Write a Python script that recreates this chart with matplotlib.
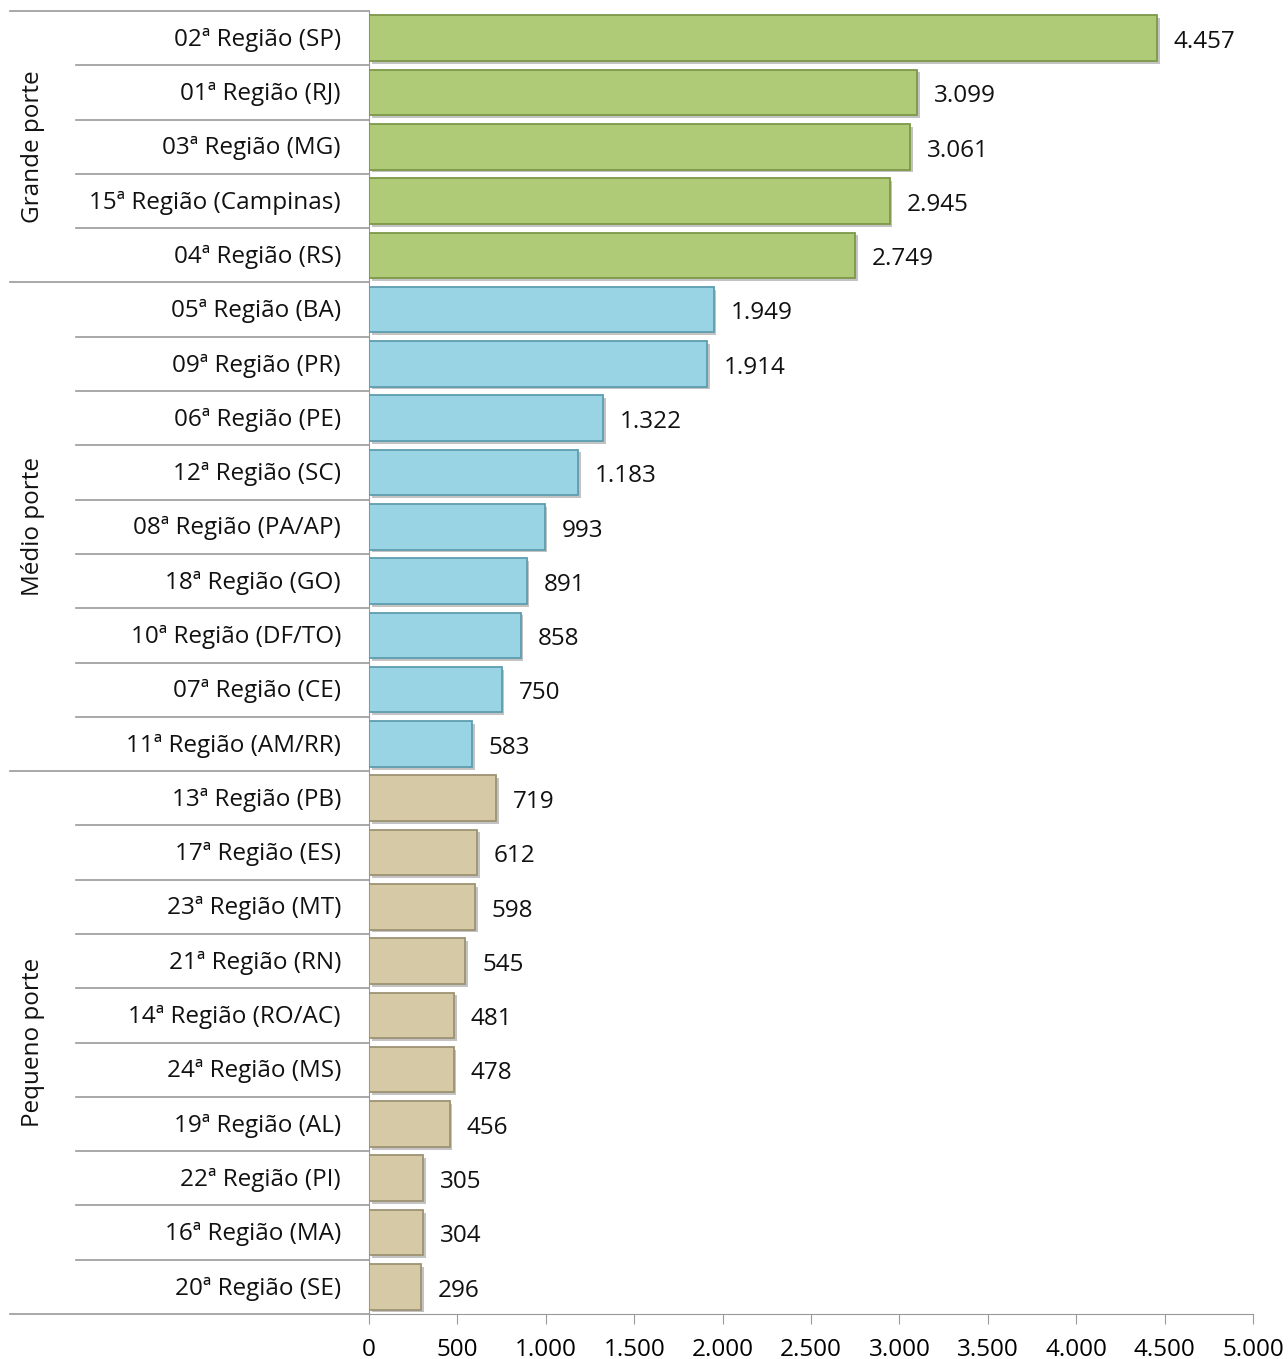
import matplotlib
matplotlib.use("Agg")
import matplotlib.pyplot as plt
import matplotlib.transforms as mtransforms
import matplotlib.patheffects as pe

plt.rcParams['font.family'] = ['Open Sans', 'DejaVu Sans']

regions = ["02ª Região (SP)", "01ª Região (RJ)", "03ª Região (MG)", "15ª Região (Campinas)",
           "04ª Região (RS)",
           "05ª Região (BA)", "09ª Região (PR)", "06ª Região (PE)", "12ª Região (SC)",
           "08ª Região (PA/AP)", "18ª Região (GO)", "10ª Região (DF/TO)", "07ª Região (CE)",
           "11ª Região (AM/RR)",
           "13ª Região (PB)", "17ª Região (ES)", "23ª Região (MT)", "21ª Região (RN)",
           "14ª Região (RO/AC)", "24ª Região (MS)", "19ª Região (AL)", "22ª Região (PI)",
           "16ª Região (MA)", "20ª Região (SE)"]
values = [4457, 3099, 3061, 2945, 2749,
          1949, 1914, 1322, 1183, 993, 891, 858, 750, 583,
          719, 612, 598, 545, 481, 478, 456, 305, 304, 296]
groups = ["Grande porte", "Médio porte", "Pequeno porte"]
group_sizes = [5, 9, 10]
group_face = ["#AFCB77", "#98D4E4", "#D5CAA5"]
group_edge = ["#7D9848", "#5E9DAF", "#9D9272"]
xticks = [0, 500, 1000, 1500, 2000, 2500, 3000, 3500, 4000, 4500, 5000]

FS = 17.5

def fmt(v):
    return "{:,}".format(v).replace(",", ".")

fig = plt.figure(figsize=(12.88, 13.59), dpi=100)
ax = fig.add_axes([369 / 1288, 1 - 1314 / 1359, 884 / 1288, 1303 / 1359])

colors, edges = [], []
for g, n in enumerate(group_sizes):
    colors += [group_face[g]] * n
    edges += [group_edge[g]] * n

ypos = list(range(len(values)))
bh = 0.84
bars = ax.barh(ypos, values, height=bh, color=colors, edgecolor=edges, linewidth=1.3, zorder=3)
for b in bars:
    b.set_path_effects([pe.SimplePatchShadow(offset=(2, -2), shadow_rgbFace="#888888", alpha=0.5), pe.Normal()])

for y, v in zip(ypos, values):
    ax.text(v + 95, y + 0.07, fmt(v), va="center", ha="left", fontsize=FS, color="#111111")

ax.set_ylim(len(values) - 0.5, -0.5)
ax.set_xlim(0, 5000)
ax.set_xticks(xticks)
ax.set_xticklabels([fmt(t) for t in xticks], fontsize=FS)
ax.set_yticks([])
for s in ["top", "right"]:
    ax.spines[s].set_visible(False)
ax.spines["left"].set_color("#999999")
ax.spines["bottom"].set_color("#999999")
ax.tick_params(axis="x", direction="out", length=7, color="#999999", pad=10)

# category labels and separators
trans = mtransforms.blended_transform_factory(fig.transFigure, ax.transData)
for y, r in enumerate(regions):
    ax.text(341 / 1288, y + 0.03, r, transform=trans, ha="right", va="center", fontsize=FS, color="#111111")

bounds = [0]
for n in group_sizes:
    bounds.append(bounds[-1] + n)
for k in range(len(values) + 1):
    x0 = 10 / 1288 if k in bounds else 76 / 1288
    ax.plot([x0, 369 / 1288], [k - 0.5, k - 0.5], transform=trans, color="#999999",
            lw=1.2, clip_on=False)

for g, name in enumerate(groups):
    mid = (bounds[g] + bounds[g + 1] - 1) / 2
    ax.text(33 / 1288, mid, name, transform=trans, rotation=90, ha="center", va="center",
            fontsize=FS, color="#111111")

fig.savefig("out.png", dpi=100)
